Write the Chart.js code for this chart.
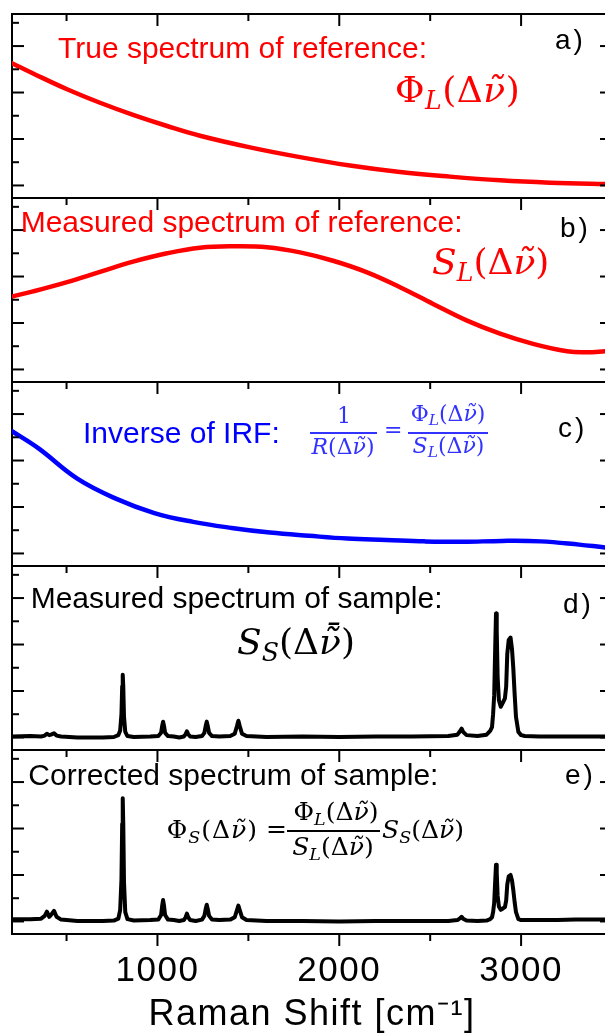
<!DOCTYPE html>
<html>
<head>
<meta charset="utf-8">
<script src="https://cdn.jsdelivr.net/npm/chart.js@4.4.0/dist/chart.umd.min.js"></script>
<style>
  body { margin: 0; background: #fff; }
  #fig { position: relative; width: 605px; height: 1035px; overflow: hidden; background: #fff; }
  #fig canvas { position: absolute; left: 0; }
  .t { position: absolute; white-space: nowrap; line-height: 1; }
  .sans { font-family: 'Liberation Sans', Arial, sans-serif; font-size: 30px; }
  .lbl { font-family: 'Liberation Sans', Arial, sans-serif; font-size: 28px; letter-spacing: 3px; color: #000; }
  .m { font-family: 'DejaVu Serif', 'Liberation Serif', serif; }
  .m i { font-style: italic; }
  .m sub { font-size: 0.7em; vertical-align: -0.28em; line-height: 0; font-style: italic; }
  .c { transform: translateX(-50%); }
  .bar { position: absolute; height: 1.5px; }
</style>
</head>
<body>
<div id="fig">
  <canvas id="panelA" width="620" height="192"></canvas>
  <canvas id="panelB" width="620" height="192"></canvas>
  <canvas id="panelC" width="620" height="192"></canvas>
  <canvas id="panelD" width="620" height="192"></canvas>
  <canvas id="panelE" width="620" height="289"></canvas>

  <!-- a) -->
  <div class="t sans" style="left:58px;top:33px;color:#ff0000">True spectrum of reference:</div>
  <div class="t m" style="left:395px;top:71.5px;font-size:36px;letter-spacing:0.5px;color:#ff0000">&Phi;<sub>L</sub>(&Delta;<i>&#957;&#771;</i>)</div>
  <div class="t lbl" style="left:555px;top:26.3px">a)</div>

  <!-- b) -->
  <div class="t sans" style="left:20.7px;top:207px;color:#ff0000">Measured spectrum of reference:</div>
  <div class="t m" style="left:432px;top:244px;font-size:36px;color:#ff0000"><i>S</i><sub>L</sub>(&Delta;<i>&#957;&#771;</i>)</div>
  <div class="t lbl" style="left:560px;top:214.3px">b)</div>

  <!-- c) -->
  <div class="t sans" style="left:83px;top:418.3px;color:#0000ff">Inverse of IRF:</div>
  <div class="t m c" style="left:344px;top:404.7px;font-size:22px;color:#3333ff">1</div>
  <div class="bar" style="left:310px;top:432px;width:67px;background:#3333ff"></div>
  <div class="t m c" style="left:343px;top:436.4px;font-size:22px;color:#3333ff"><i>R</i>(&Delta;<i>&#957;&#771;</i>)</div>
  <div class="t m" style="left:384px;top:419.4px;font-size:22px;color:#3333ff">=</div>
  <div class="t m c" style="left:448px;top:403.4px;font-size:22px;color:#3333ff">&Phi;<sub>L</sub>(&Delta;<i>&#957;&#771;</i>)</div>
  <div class="bar" style="left:408px;top:432px;width:80px;background:#3333ff"></div>
  <div class="t m c" style="left:448.5px;top:435.4px;font-size:22px;color:#3333ff"><i>S</i><sub>L</sub>(&Delta;<i>&#957;&#771;</i>)</div>
  <div class="t lbl" style="left:558px;top:414.3px">c)</div>

  <!-- d) -->
  <div class="t sans" style="left:30.7px;top:583px;color:#000">Measured spectrum of sample:</div>
  <div class="t m" style="left:237px;top:623.5px;font-size:36px;color:#000"><i>S</i><sub>S</sub>(&Delta;<i>&#957;&#771;&#772;</i>)</div>
  <div class="t lbl" style="left:563px;top:590.3px">d)</div>

  <!-- e) -->
  <div class="t sans" style="left:28.3px;top:760px;color:#000">Corrected spectrum of sample:</div>
  <div class="t lbl" style="left:565px;top:761.3px">e)</div>
  <div class="t m" style="left:166.7px;top:816.8px;font-size:25px;letter-spacing:1px;color:#000">&Phi;<sub>S</sub>(&Delta;<i>&#957;&#771;</i>)</div>
  <div class="t m" style="left:266px;top:816px;font-size:25px;color:#000">=</div>
  <div class="t m c" style="left:336px;top:798.8px;font-size:25px;color:#000">&Phi;<sub>L</sub>(&Delta;<i>&#957;&#771;</i>)</div>
  <div class="bar" style="left:287px;top:830px;width:93px;background:#000"></div>
  <div class="t m c" style="left:333px;top:833.8px;font-size:25px;color:#000"><i>S</i><sub>L</sub>(&Delta;<i>&#957;&#771;</i>)</div>
  <div class="t m" style="left:382px;top:816.8px;font-size:25px;color:#000"><i>S</i><sub>S</sub>(&Delta;<i>&#957;&#771;</i>)</div>
</div>

<script>
// tick values shared by all five panels
const xTicksMajor = [1000, 2000, 3000];
const xTicksMinor = [500, 1500, 2500];
const yTicksMajor = [0, 1, 2, 3];
const yTicksMinor = [0.5, 1.5, 2.5, 3.5];
const xTitle = 'Raman Shift [cm\u207B\u00B9]';

// a) true spectrum of reference
const trueShift = [200, 316, 503, 684, 866, 1053, 1234, 1509, 1784, 2059, 2334, 2609, 2884, 3159, 3462, 3500];
const trueSpectrum = [2.63, 2.41, 2.07, 1.78, 1.52, 1.28, 1.07, 0.82, 0.61, 0.43, 0.29, 0.19, 0.11, 0.06, 0.03, 0.03];

// b) measured spectrum of reference
const measShift = [200, 316, 503, 684, 866, 1053, 1234, 1416, 1603, 1784, 1966, 2153, 2334, 2516, 2703, 2884, 3066, 3253, 3363, 3462, 3500];
const measSpectrum = [1.57, 1.68, 1.88, 2.10, 2.32, 2.50, 2.62, 2.65, 2.63, 2.52, 2.34, 2.09, 1.77, 1.41, 1.05, 0.77, 0.55, 0.39, 0.37, 0.39, 0.40];

// c) inverse of the instrument response
const irfShift = [200, 346, 559, 771, 983, 1196, 1408, 1619, 1834, 2045, 2257, 2470, 2682, 2895, 3107, 3319, 3462, 3500];
const inverseIrf = [2.63, 2.26, 1.61, 1.18, 0.87, 0.68, 0.55, 0.45, 0.38, 0.32, 0.29, 0.26, 0.25, 0.27, 0.26, 0.19, 0.13, 0.12];

// d) and e) sample spectra, same shift axis
const sampleShift = [
  200, 300, 360, 380, 392, 405, 415, 431, 445, 470,
  560, 700, 760, 785, 795, 802, 806, 809, 812, 816,
  823, 835, 870, 960, 1005, 1020, 1026, 1031, 1036, 1042,
  1058, 1090, 1120, 1145, 1155, 1162, 1169, 1180, 1210, 1245,
  1258, 1266, 1271, 1276, 1284, 1300, 1340, 1400, 1425, 1437,
  1445, 1453, 1465, 1490, 1600, 1800, 2000, 2200, 2400, 2600,
  2650, 2665, 2673, 2681, 2700, 2760, 2810, 2830, 2840, 2846,
  2852, 2858, 2862, 2866, 2871, 2878, 2888, 2900, 2911, 2918,
  2924, 2932, 2942, 2950, 2957, 2965, 2972, 2985, 3000, 3020,
  3100, 3200, 3300, 3400, 3500
];
const measuredSample = [
  0.02, 0.03, 0.02, 0.04, 0.08, 0.05, 0.06, 0.09, 0.04, 0.02,
  0.00, 0.00, 0.01, 0.05, 0.15, 0.50, 1.10, 1.35, 1.10, 0.45,
  0.12, 0.03, 0.01, 0.02, 0.03, 0.10, 0.25, 0.34, 0.25, 0.10,
  0.03, 0.02, 0.00, 0.02, 0.07, 0.13, 0.07, 0.02, 0.01, 0.03,
  0.10, 0.26, 0.34, 0.26, 0.10, 0.03, 0.02, 0.03, 0.08, 0.24,
  0.36, 0.24, 0.08, 0.03, 0.01, 0.02, 0.01, 0.02, 0.02, 0.03,
  0.06, 0.14, 0.19, 0.12, 0.05, 0.03, 0.06, 0.14, 0.22, 0.50,
  0.90, 2.00, 2.67, 2.30, 1.30, 0.80, 0.66, 0.75, 0.84, 1.10,
  1.80, 2.10, 2.15, 1.90, 1.50, 0.90, 0.44, 0.12, 0.05, 0.03,
  0.02, 0.02, 0.02, 0.02, 0.02
];
const correctedSample = [
  0.05, 0.05, 0.06, 0.12, 0.21, 0.10, 0.14, 0.23, 0.10, 0.04,
  0.01, 0.01, 0.02, 0.06, 0.25, 0.90, 2.10, 2.65, 2.10, 0.85,
  0.20, 0.05, 0.02, 0.03, 0.04, 0.14, 0.34, 0.46, 0.34, 0.14,
  0.04, 0.03, 0.01, 0.03, 0.09, 0.17, 0.09, 0.03, 0.01, 0.04,
  0.12, 0.28, 0.36, 0.28, 0.12, 0.04, 0.03, 0.04, 0.09, 0.24,
  0.34, 0.24, 0.09, 0.03, 0.01, 0.01, 0.00, 0.01, 0.01, 0.01,
  0.03, 0.07, 0.10, 0.06, 0.02, 0.01, 0.02, 0.05, 0.09, 0.20,
  0.40, 0.90, 1.22, 1.05, 0.55, 0.32, 0.25, 0.28, 0.31, 0.45,
  0.80, 0.97, 1.00, 0.88, 0.68, 0.40, 0.20, 0.05, 0.03, 0.03,
  0.03, 0.03, 0.04, 0.04, 0.04
];

const panels = [
  { id: 'panelA', xs: trueShift, ys: trueSpectrum, color: '#ff0000', width: 4.5, smooth: true },
  { id: 'panelB', xs: measShift, ys: measSpectrum, color: '#ff0000', width: 4.5, smooth: true },
  { id: 'panelC', xs: irfShift, ys: inverseIrf, color: '#0000ff', width: 4.5, smooth: true },
  { id: 'panelD', xs: sampleShift, ys: measuredSample, color: '#000000', width: 4, smooth: false },
  { id: 'panelE', xs: sampleShift, ys: correctedSample, color: '#000000', width: 4, smooth: false }
];
const panelTop = [14, 198, 382, 566, 750];

Chart.defaults.font.family = "'Liberation Sans', Arial, sans-serif";

// inward tick marks on every panel frame (outward along the very bottom)
const frameTicks = {
  id: 'frameTicks',
  afterDraw(chart, args, opts) {
    const { ctx, chartArea: a, scales: { x, y } } = chart;
    const seg = (x1, y1, x2, y2) => { ctx.beginPath(); ctx.moveTo(x1, y1); ctx.lineTo(x2, y2); ctx.stroke(); };
    ctx.save();
    ctx.strokeStyle = '#000';
    ctx.lineWidth = 2;
    const xMarks = (vals, len) => vals.forEach(v => {
      const px = x.getPixelForValue(v);
      seg(px, a.top, px, a.top + len);
      if (opts.bottomOut) seg(px, a.bottom, px, a.bottom + len);
    });
    const yMarks = (vals, len) => vals.forEach(v => {
      const py = y.getPixelForValue(v);
      seg(a.left, py, a.left + len, py);
      seg(a.right, py, a.right - len, py);
    });
    xMarks(xTicksMajor, 12);
    xMarks(xTicksMinor, 7);
    yMarks(yTicksMajor, 12);
    yMarks(yTicksMinor, 7);
    ctx.restore();
  }
};

const spacing = {
  id: 'spacing',
  beforeDraw(chart) { chart.ctx.letterSpacing = '1.5px'; }
};

const frameBorder = { display: true, color: '#000', width: 2 };

panels.forEach((p, i) => {
  const last = i === panels.length - 1;
  const canvas = document.getElementById(p.id);
  canvas.style.top = (panelTop[i] - 4) + 'px';

  new Chart(canvas, {
    type: 'line',
    data: {
      datasets: [{
        data: p.xs.map((x, k) => ({ x: x, y: p.ys[k] })),
        borderColor: p.color,
        borderWidth: p.width,
        pointRadius: 0,
        tension: p.smooth ? 0.4 : 0,
        borderJoinStyle: 'round',
        borderCapStyle: 'round',
        fill: false
      }]
    },
    options: {
      responsive: false,
      animation: false,
      events: [],
      layout: { padding: { left: 12, right: 8, top: 4, bottom: last ? 0 : 4 } },
      plugins: {
        legend: { display: false },
        tooltip: { enabled: false },
        frameTicks: { bottomOut: last }
      },
      scales: {
        x: {
          type: 'linear', min: 200, max: 3500, position: 'bottom',
          grid: { display: false, drawTicks: false },
          border: frameBorder,
          afterBuildTicks: s => { s.ticks = xTicksMajor.map(v => ({ value: v })); },
          afterFit: s => { s.height = last ? 101 : 0; },
          ticks: {
            display: last, color: '#000', padding: 16, maxRotation: 0, autoSkip: false,
            font: { size: 35 }, callback: v => String(v)
          },
          title: { display: last, text: xTitle, color: '#000', font: { size: 36 }, padding: { top: 0, bottom: -2 } }
        },
        xTop: {
          type: 'linear', min: 200, max: 3500, position: 'top',
          grid: { display: false, drawTicks: false },
          border: frameBorder,
          ticks: { display: false },
          afterFit: s => { s.height = 0; }
        },
        y: {
          type: 'linear', min: -0.27, max: 3.69, position: 'left',
          grid: { display: false, drawTicks: false },
          border: frameBorder,
          ticks: { display: false },
          afterFit: s => { s.width = 0; }
        }
      }
    },
    plugins: last ? [frameTicks, spacing] : [frameTicks]
  });
});
</script>
</body>
</html>
